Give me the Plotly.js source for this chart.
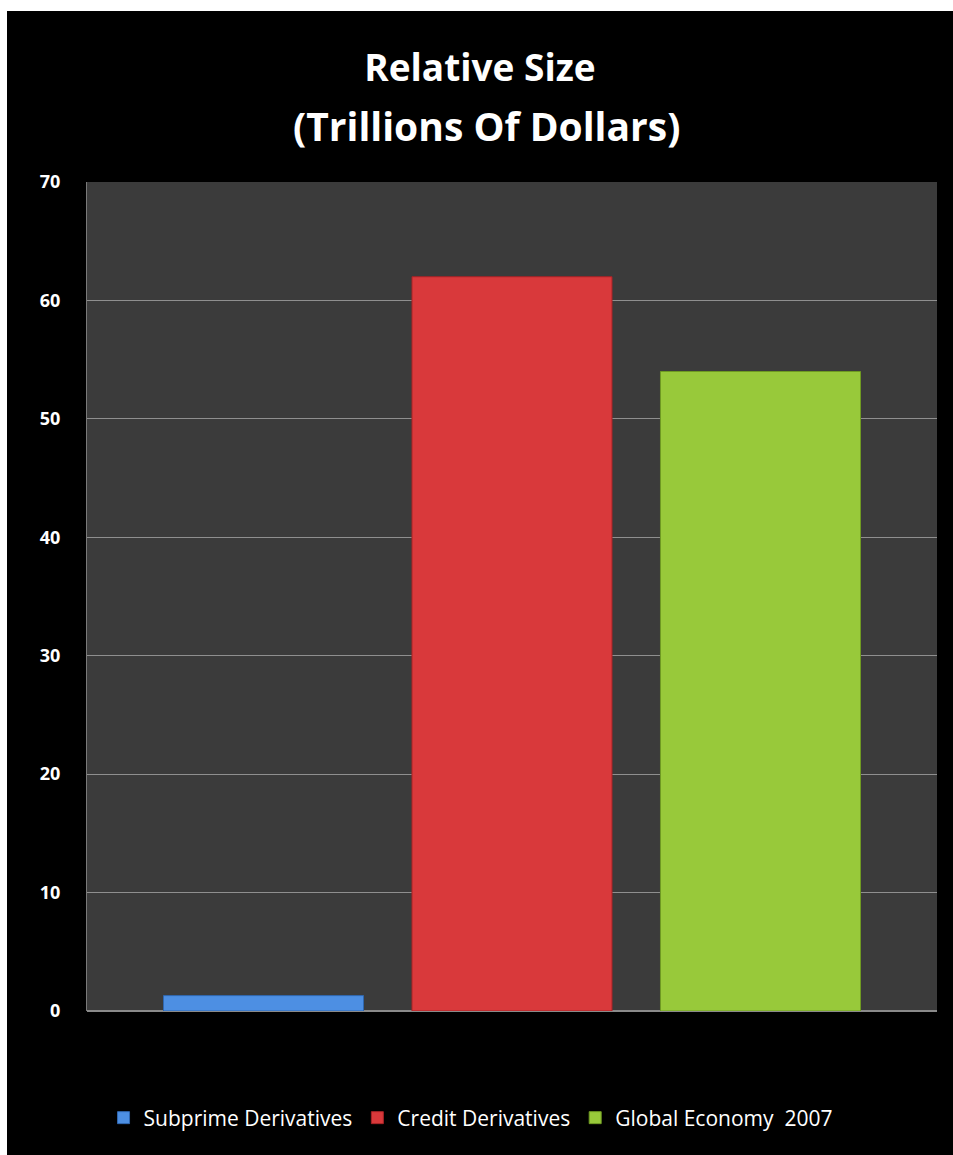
<!DOCTYPE html>
<html>
<head>
<meta charset="utf-8">
<script src="https://cdn.plot.ly/plotly-3.0.1.min.js"></script>
<style>
  html, body { margin: 0; padding: 0; background: #ffffff; width: 953px; height: 1155px; overflow: hidden; }
  #chart { position: absolute; left: 7px; top: 11px; width: 946px; height: 1144px; }
</style>
</head>
<body>
<div id="chart"></div>
<script>
// ---- Data ----
var categories = ['Relative Size'];
var seriesNames = ['Subprime Derivatives', 'Credit Derivatives', 'Global Economy  2007'];
var subprimeValues = [1.3];
var creditValues = [62];
var globalValues = [54];
var yTickValues = [0, 10, 20, 30, 40, 50, 60, 70];
var yTickLabels = ['0', '10', '20', '30', '40', '50', '60', '70'];

var colors = ['#4d8fe3', '#d9393b', '#98c93a'];
var lineColors = ['#2f67b0', '#a82326', '#6f9a22'];
var values = [subprimeValues, creditValues, globalValues];

var traces = seriesNames.map(function (name, i) {
  return {
    type: 'bar',
    name: name,
    x: categories,
    y: values[i],
    marker: { color: colors[i], line: { color: lineColors[i], width: 1 } },
    hoverinfo: 'name+y'
  };
});

var H = 1144, TOP = 171, BOT = 144;
var plotH = H - TOP - BOT;
function paperY(divY) { return (H - BOT - divY) / plotH; }

var layout = {
  width: 946,
  height: H,
  paper_bgcolor: '#000000',
  plot_bgcolor: '#3b3b3b',
  margin: { l: 80, r: 16, t: TOP, b: BOT },
  font: { family: 'Open Sans, sans-serif', color: '#ffffff' },
  title: {
    text: '<b>Relative Size</b>',
    font: { family: 'Open Sans, sans-serif', size: 37, color: '#ffffff' },
    x: 0.5, xref: 'container', xanchor: 'center',
    y: 1 - 57 / H, yref: 'container', yanchor: 'middle'
  },
  annotations: [{
    text: '<b>(Trillions Of Dollars)</b>',
    xref: 'paper', yref: 'paper',
    x: 0.47, xanchor: 'center',
    y: paperY(115), yanchor: 'middle',
    showarrow: false,
    font: { family: 'Open Sans, sans-serif', size: 39, color: '#ffffff' }
  }],
  barmode: 'group',
  bargap: 0.123,
  bargroupgap: 0.195,
  xaxis: {
    showticklabels: false,
    showgrid: false,
    zeroline: false,
    showline: false,
    fixedrange: true
  },
  yaxis: {
    range: [0, 70],
    tickvals: yTickValues,
    ticktext: yTickLabels,
    tickfont: { family: 'Open Sans, sans-serif', size: 18, color: '#ffffff', weight: 'bold' },
    ticks: '',
    ticklabelstandoff: 22,
    showgrid: true,
    gridcolor: '#8f8f8f',
    gridwidth: 1,
    zeroline: true,
    zerolinecolor: '#8a8a8a',
    zerolinewidth: 2,
    showline: true,
    linecolor: '#7a7a7a',
    linewidth: 1,
    fixedrange: true
  },
  showlegend: true,
  legend: {
    orientation: 'h',
    x: 0.49, xref: 'container', xanchor: 'center',
    y: 1 - 1107 / H, yref: 'container', yanchor: 'middle',
    font: { family: 'Open Sans, sans-serif', size: 21, color: '#ffffff' },
    bgcolor: 'rgba(0,0,0,0)',
    traceorder: 'normal',
    itemwidth: 30
  }
};

Plotly.newPlot('chart', traces, layout, { displayModeBar: false, staticPlot: true });
</script>
</body>
</html>
